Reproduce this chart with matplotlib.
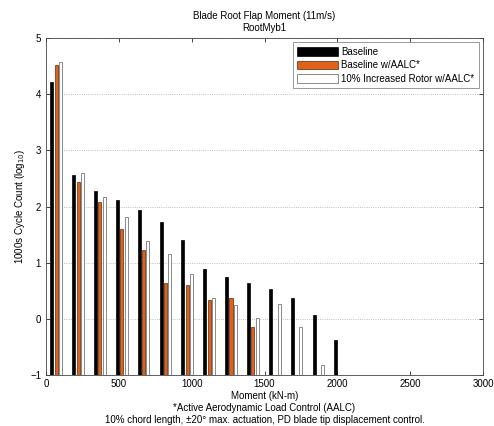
import numpy as np
import matplotlib.pyplot as plt

plt.rcParams['font.family'] = ['Liberation Sans', 'DejaVu Sans']

# Bin centres (kN-m) and log10 cycle counts per series
moment = [70, 220, 370, 520, 670, 820, 970, 1120, 1270, 1420, 1570, 1720, 1870, 2020]
baseline = [4.21, 2.56, 2.27, 2.11, 1.94, 1.73, 1.40, 0.89, 0.75, 0.64, 0.54, 0.37, 0.07, -0.38]
baseline_aalc = [4.52, 2.43, 2.08, 1.60, 1.23, 0.64, 0.60, 0.33, 0.37, -0.14,
                 np.nan, np.nan, np.nan, np.nan]
rotor_aalc = [4.57, 2.60, 2.17, 1.82, 1.38, 1.15, 0.80, 0.37, 0.24, 0.01, 0.27, -0.14, -0.83, np.nan]

x = np.array(moment)
base = -1
w = 21
off = 30

fig = plt.figure(figsize=(4.94, 4.26), dpi=100)
ax = fig.add_axes([0.0931, 0.1197, 0.8847, 0.791])

ax.bar(x - off, np.array(baseline) - base, bottom=base, width=w,
       color='black', edgecolor='black', linewidth=0.5, label='Baseline', zorder=3)
ax.bar(x, np.array(baseline_aalc) - base, bottom=base, width=w,
       color='#E0601C', edgecolor='#5a2a0a', linewidth=0.5, label='Baseline w/AALC*', zorder=3)
ax.bar(x + off, np.array(rotor_aalc) - base, bottom=base, width=w,
       color='white', edgecolor='#777777', linewidth=0.6,
       label='10% Increased Rotor w/AALC*', zorder=3)

ax.set_xlim(0, 3000)
ax.set_ylim(-1, 5)
ax.set_xticks(np.arange(0, 3001, 500))
ax.set_yticks(np.arange(-1, 6, 1))
ax.tick_params(direction='in', top=True, right=True, labelsize=7, length=3, width=0.5)
ax.tick_params(axis='x', pad=3)
ax.yaxis.grid(True, linestyle=':', linewidth=0.6, color='#aaaaaa', zorder=0)
for s in ax.spines.values():
    s.set_linewidth(0.6)
    s.set_color('#444444')

ax.set_title('Blade Root Flap Moment (11m/s)\nRootMyb1', fontsize=7, linespacing=1.25, pad=5)
ax.set_ylabel(r'1000s Cycle Count (log$_{10}$)', fontsize=7, labelpad=2)
ax.set_xlabel('Moment (kN-m)\n*Active Aerodynamic Load Control (AALC)\n'
              '10% chord length, \u00b120\u00b0 max. actuation, PD blade tip displacement control.',
              fontsize=7, linespacing=1.28, labelpad=1)

leg = ax.legend(loc='upper right', fontsize=7, fancybox=False, framealpha=1,
                edgecolor='#888888', handlelength=4.2, handleheight=1.0,
                borderaxespad=0.4, labelspacing=0.35, handletextpad=0.3,
                borderpad=0.5)
leg.get_frame().set_linewidth(0.6)

fig.savefig('out.png', dpi=100)
